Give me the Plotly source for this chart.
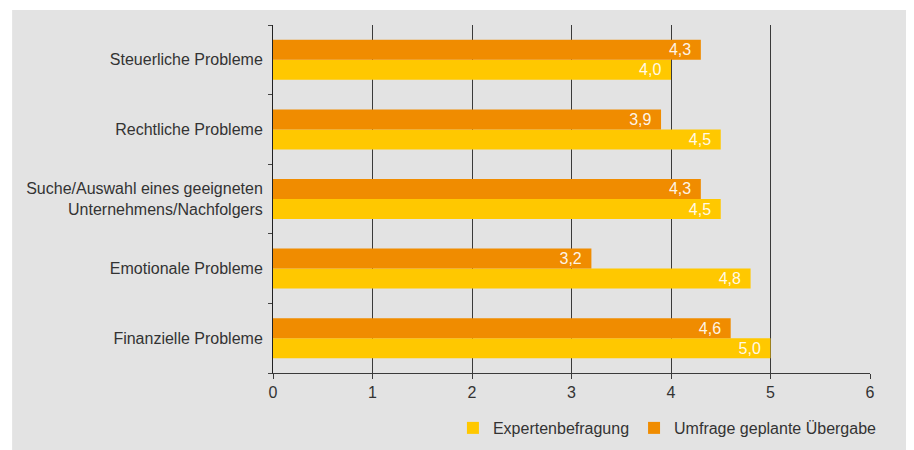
import plotly.graph_objects as go

categories = ["Finanzielle Probleme", "Emotionale Probleme",
              "Suche/Auswahl eines geeigneten<br>Unternehmens/Nachfolgers",
              "Rechtliche Probleme", "Steuerliche Probleme"]
experten = [5.0, 4.8, 4.5, 4.5, 4.0]
umfrage = [4.6, 3.2, 4.3, 3.9, 4.3]
series_names = ["Expertenbefragung", "Umfrage geplante Übergabe"]
x_ticks = [0, 1, 2, 3, 4, 5, 6]

YELLOW = "#FFC800"
ORANGE = "#F08C00"
BG = "#E3E3E3"
FONT = "Liberation Sans, Arial, sans-serif"

def fmt(v):
    return f"{v:.1f}".replace(".", ",") + "\u2005\u2006"

fig = go.Figure()
for name, vals, col in [(series_names[0], experten, YELLOW), (series_names[1], umfrage, ORANGE)]:
    fig.add_trace(go.Bar(
        y=categories, x=vals, name=name, orientation="h",
        marker=dict(color=col, line=dict(width=0)),
        text=[fmt(v) for v in vals], textposition="inside",
        insidetextanchor="end", constraintext="none",
        textfont=dict(color="rgba(255,255,255,0.92)", size=16, family=FONT),
        hoverinfo="skip",
    ))

fig.update_layout(
    width=906, height=442,
    margin=dict(l=265, r=44, t=17, b=77, autoexpand=False),
    paper_bgcolor="white", plot_bgcolor=BG,
    barmode="group", bargap=0.425, bargroupgap=0,
    font=dict(family=FONT, size=16, color="#333333"),
    showlegend=True,
    legend=dict(orientation="h", x=1.02, xanchor="right", y=-0.158, yanchor="middle",
                font=dict(size=16, color="#333333"), bgcolor="rgba(0,0,0,0)",
                traceorder="normal", itemwidth=30),
    shapes=[dict(type="rect", xref="paper", yref="paper", x0=-0.437, x1=1.08,
                 y0=-0.25, y1=1.043, fillcolor=BG, line=dict(width=0), layer="below")],
)
fig.update_xaxes(range=[0, 6], tickvals=x_ticks, ticktext=[str(t) for t in x_ticks],
                 showgrid=True, gridcolor="#3a3a3a", gridwidth=1,
                 showline=True, linecolor="#3a3a3a", linewidth=1,
                 ticks="outside", ticklen=5, tickcolor="#3a3a3a",
                 zeroline=False, tickfont=dict(size=16, color="#333333"))
fig.update_yaxes(showgrid=False, showline=True, linecolor="#222222", linewidth=1,
                 ticks="outside", ticklen=4, tickcolor="#444444", tickson="boundaries",
                 tickfont=dict(size=16, color="#333333"), ticklabelstandoff=6)

fig.write_html("out.html")
